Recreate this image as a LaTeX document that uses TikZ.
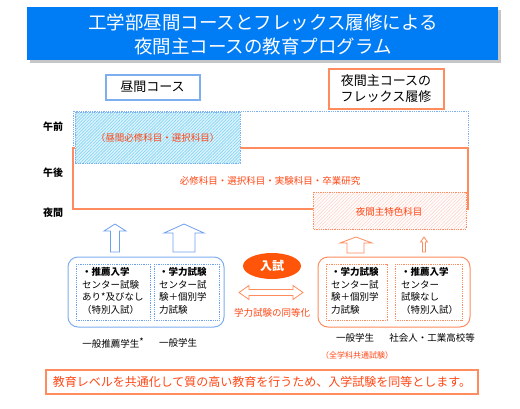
\documentclass[tikz,border=0pt]{standalone}
\usepackage{fontspec}
\setmainfont{Noto Sans CJK JP}
\usetikzlibrary{patterns.meta}
\definecolor{tblue}{RGB}{0,124,245}
\definecolor{lblue}{RGB}{125,175,240}
\definecolor{dblue}{RGB}{110,160,240}
\definecolor{orng}{RGB}{255,140,95}
\definecolor{ored}{RGB}{255,70,20}
\definecolor{ofill}{RGB}{255,85,10}
\definecolor{hcyan}{RGB}{140,215,245}
\definecolor{hcyanbg}{RGB}{225,245,253}
\definecolor{hpink}{RGB}{255,212,202}
\begin{document}
\begin{tikzpicture}[x=1pt,y=-1pt,
  every node/.style={inner sep=0pt},
  tmain/.style={font=\fontsize{9.5}{12.5}\selectfont},
  ttag/.style={font=\fontsize{10}{12}\selectfont\bfseries},
  tcourse/.style={font=\fontsize{13}{16}\selectfont},
  bluearrow/.style={draw=dblue,line width=0.8pt,fill=white},
  orarrow/.style={draw=orng,line width=0.8pt,fill=white},
  bluedot/.style={draw=dblue,densely dotted,line width=0.8pt},
  ordot/.style={draw=orng,densely dotted,line width=0.8pt}]
\useasboundingbox[fill=white] (0,0) rectangle (520,408);
% title
\fill[gray!45] (30,10) rectangle (501,63);
\fill[tblue] (27,7) rectangle (498,60);
\node[text=white,font=\fontsize{18.5}{23.5}\selectfont,align=center] (title) at (263,34.5)
  {工学部昼間コースとフレックス履修による\\夜間主コースの教育プログラム};
% course headers
\node[draw=lblue,line width=2pt,minimum width=94pt,minimum height=25pt,tcourse] (day) at (152.5,87) {昼間コース};
\node[draw=orng,line width=2pt,minimum width=115pt,minimum height=40pt,tcourse,align=center] (flex) at (386,88.5) {夜間主コースの\\フレックス履修};
% time labels
\node[ttag] (am) at (53,127) {午前};
\node[ttag] (pm) at (53,173) {午後};
\node[ttag] (night) at (53,213) {夜間};
% time blocks
\draw[bluedot,draw=lblue] (73,111) rectangle (468,147);
\draw[orng,line width=2pt] (73,148) rectangle (468,209);
\fill[hcyanbg] (75,112) rectangle (240,163);
\fill[pattern={Lines[angle=45,distance=2.2pt,line width=0.8pt]},pattern color=hcyan] (75,112) rectangle (240,163);
\draw[bluedot,draw=lblue] (75,112) rectangle (240,163);
\node[text=ored,tmain] (dayreq) at (157.5,138) {（昼間必修科目・選択科目）};
\node[text=ored,tmain] (req) at (270,180.5) {必修科目・選択科目・実験科目・卒業研究};
\fill[white] (313,192) rectangle (466,229);
\fill[pattern={Lines[angle=45,distance=2.4pt,line width=0.6pt]},pattern color=hpink] (313,192) rectangle (466,229);
\draw[ordot] (313,192) rectangle (466,229);
\node[text=ored,tmain] (nightsp) at (389,212) {夜間主特色科目};
% up arrows
\draw[bluearrow] (115,224) -- (126,231) -- (119.5,231) -- (119.5,252) -- (110.5,252) -- (110.5,231) -- (104,231) -- cycle;
\draw[bluearrow] (184,224) -- (204,233) -- (195,233) -- (195,252) -- (173,252) -- (173,233) -- (164,233) -- cycle;
\draw[orarrow] (356,237) -- (372,243) -- (364,243) -- (364,253) -- (347,253) -- (347,243) -- (340,243) -- cycle;
\draw[orarrow] (424,237) -- (427.5,242) -- (425.5,242) -- (425.5,252) -- (422.5,252) -- (422.5,242) -- (420.5,242) -- cycle;
% entrance boxes
\draw[lblue,line width=1pt,rounded corners=10pt] (68,257) rectangle (224,327);
\draw[bluedot] (76,264) rectangle (150,320);
\draw[bluedot] (154,264) rectangle (219,320);
\node[tmain,anchor=north west,align=left] (lrec) at (82,267.5)
  {\textbf{・推薦入学}\\センター試験\\あり*及びなし\\（特別入試）};
\node[tmain,anchor=north west,align=left] (lacad) at (159,267.5)
  {\textbf{・学力試験}\\センター試\\験＋個別学\\力試験};
\draw[orng,line width=1pt,rounded corners=10pt] (318,257) rectangle (470,327);
\draw[ordot] (326,264) rectangle (387,320);
\draw[ordot] (395,264) rectangle (462,320);
\node[tmain,anchor=north west,align=left] (racad) at (331,267.5)
  {\textbf{・学力試験}\\センター試\\験＋個別学\\力試験};
\node[tmain,anchor=north west,align=left] (rrec) at (401,267.5)
  {\textbf{・推薦入学}\\センター\\試験なし\\（特別入試）};
% middle
\fill[ofill] (272,266) ellipse [x radius=29,y radius=13];
\node[text=white,font=\fontsize{12}{14}\selectfont\bfseries] (exam) at (272,266) {入試};
\draw[orarrow] (239,292.5) -- (249,285.5) -- (249,289.5) -- (293,289.5) -- (293,285.5) -- (303,292.5) -- (293,299.5) -- (293,295.5) -- (249,295.5) -- (249,299.5) -- cycle;
\node[text=ored,tmain] (eq) at (272,313) {学力試験の同等化};
% student labels
\node[tmain] (s1) at (113,343) {一般推薦学生\raisebox{2pt}{*}};
\node[tmain] (s2) at (178,343) {一般学生};
\node[tmain] (s3) at (355,338) {一般学生};
\node[tmain] (s4) at (432,338) {社会人・工業高校等};
\node[text=ored,font=\fontsize{8}{10}\selectfont] (s5) at (357,355) {（全学科共通試験）};
% bottom message
\draw[orng,line width=2pt] (46,370) rectangle (478,394);
\node[text=ored,font=\fontsize{12}{14}\selectfont] (msg) at (262,382) {教育レベルを共通化して質の高い教育を行うため、入学試験を同等とします。};
\end{tikzpicture}
\end{document}
